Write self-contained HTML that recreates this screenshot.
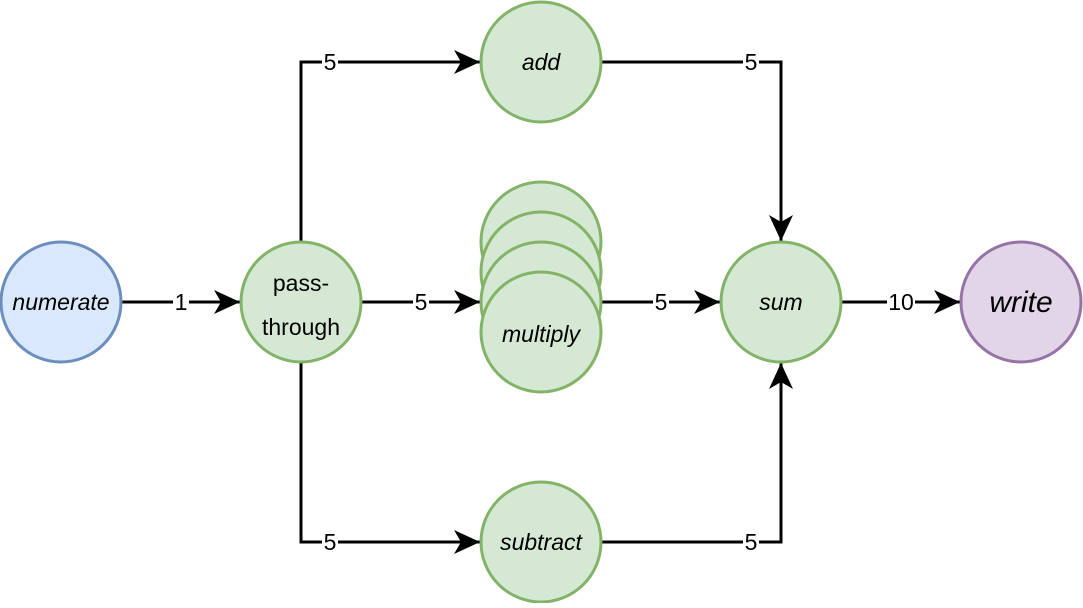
<!DOCTYPE html>
<html><head><style>body{margin:0;background:#fff}</style></head><body>
<svg width="1083" height="603" xmlns="http://www.w3.org/2000/svg" font-family="Liberation Sans, sans-serif">
<defs>
<marker id="a" markerWidth="26" markerHeight="24" refX="26" refY="12" orient="auto" markerUnits="userSpaceOnUse">
<path d="M0,0 L26,12 L0,24 L7,12 Z" fill="#000"/>
</marker>
</defs>
<g stroke="#000" stroke-width="3" fill="none">
<path d="M121,302 H240" marker-end="url(#a)"/>
<path d="M361,302 H480" marker-end="url(#a)"/>
<path d="M601,302 H720" marker-end="url(#a)"/>
<path d="M841,302 H960" marker-end="url(#a)"/>
<path d="M301,242 V62 H480" marker-end="url(#a)"/>
<path d="M301,362 V542 H480" marker-end="url(#a)"/>
<path d="M601,62 H781 V241" marker-end="url(#a)"/>
<path d="M601,542 H781 V363" marker-end="url(#a)"/>
</g>
<g font-size="23" text-anchor="middle" fill="#000">
<rect x="173" y="289" width="16" height="26" fill="#fff"/><text x="181" y="310">1</text>
<rect x="413" y="289" width="16" height="26" fill="#fff"/><text x="421" y="310">5</text>
<rect x="653" y="289" width="16" height="26" fill="#fff"/><text x="661" y="310">5</text>
<rect x="887" y="289" width="28" height="26" fill="#fff"/><text x="901" y="310">10</text>
<rect x="322" y="49" width="16" height="26" fill="#fff"/><text x="330" y="70">5</text>
<rect x="322" y="529" width="16" height="26" fill="#fff"/><text x="330" y="550">5</text>
<rect x="743" y="49" width="16" height="26" fill="#fff"/><text x="751" y="70">5</text>
<rect x="743" y="529" width="16" height="26" fill="#fff"/><text x="751" y="550">5</text>
</g>
<g stroke-width="3">
<circle cx="61" cy="302" r="60" fill="#dae8fc" stroke="#6c8ebf"/>
<circle cx="301" cy="302" r="60" fill="#d5e8d4" stroke="#82b366"/>
<circle cx="541" cy="62" r="60" fill="#d5e8d4" stroke="#82b366"/>
<circle cx="541" cy="242" r="60" fill="#d5e8d4" stroke="#82b366"/>
<circle cx="541" cy="272" r="60" fill="#d5e8d4" stroke="#82b366"/>
<circle cx="541" cy="302" r="60" fill="#d5e8d4" stroke="#82b366"/>
<circle cx="541" cy="332" r="60" fill="#d5e8d4" stroke="#82b366"/>
<circle cx="781" cy="302" r="60" fill="#d5e8d4" stroke="#82b366"/>
<circle cx="541" cy="542" r="60" fill="#d5e8d4" stroke="#82b366"/>
<circle cx="1021" cy="302" r="60" fill="#e1d5e7" stroke="#9673a6"/>
</g>
<g font-size="23" text-anchor="middle" fill="#000" font-style="italic">
<text x="61" y="310">numerate</text>
<text x="541" y="70">add</text>
<text x="541" y="342">multiply</text>
<text x="781" y="310">sum</text>
<text x="541" y="550">subtract</text>
<text x="1021" y="312" font-size="30">write</text>
</g>
<g font-size="23" text-anchor="middle" fill="#000">
<text x="301" y="291">pass-</text>
<text x="301" y="335">through</text>
</g>
</svg>
</body></html>
